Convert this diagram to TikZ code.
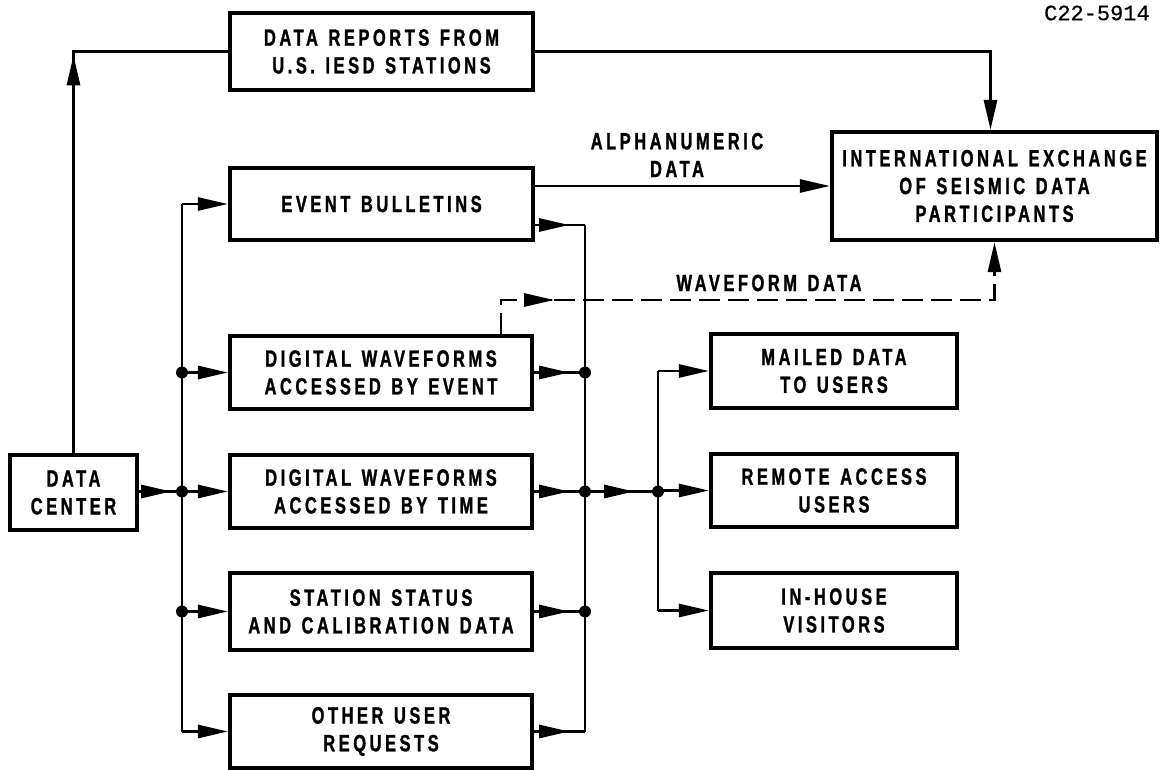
\documentclass[tikz,border=0pt]{standalone}
\usepackage{fontspec}
\setmainfont{Liberation Sans}[FakeStretch=0.7,LetterSpace=15,FakeBold=1.2,WordSpace=1.3]
\newfontfamily\monofnt{Liberation Mono}[FakeBold=0.6]
\usetikzlibrary{arrows.meta,calc}
\newcommand\lblfont{\bfseries\fontsize{13.4}{15.8}\selectfont}
\begin{document}
\begin{tikzpicture}[x=0.02cm,y=-0.02cm,
  box/.style={draw,line width=2.6pt,align=center,inner sep=0pt,font=\lblfont},
  conn/.style={line width=1.3pt},
  arr/.style={conn,-{Triangle[length=17pt,width=7.5pt]}},
  dsh/.style={conn,dash pattern=on 12pt off 4.5pt},
  dot/.style={circle,fill,inner sep=0pt,minimum size=0.24cm},
  lbl/.style={font=\lblfont,align=center,inner sep=0pt}]
\useasboundingbox (0,0) rectangle (1167,770);

% boxes
\node[box,minimum width=6.06cm,minimum height=1.54cm] (DR) at (381.5,51.5) {DATA REPORTS FROM\\U.S. IESD STATIONS};
\node[box,minimum width=6.06cm,minimum height=1.44cm] (EB) at (381.5,204) {EVENT BULLETINS};
\node[box,minimum width=6.5cm,minimum height=2.16cm] (INTL) at (994.5,186) {INTERNATIONAL EXCHANGE\\OF SEISMIC DATA\\PARTICIPANTS};
\node[box,minimum width=6.04cm,minimum height=1.46cm] (DWE) at (381,372.5) {DIGITAL WAVEFORMS\\ACCESSED BY EVENT};
\node[box,minimum width=6.04cm,minimum height=1.46cm] (DWT) at (381,491.5) {DIGITAL WAVEFORMS\\ACCESSED BY TIME};
\node[box,minimum width=6.04cm,minimum height=1.54cm] (STA) at (381,611.5) {STATION STATUS\\AND CALIBRATION DATA};
\node[box,minimum width=6.04cm,minimum height=1.46cm] (OTH) at (381,731.5) {OTHER USER\\REQUESTS};
\node[box,minimum width=2.54cm,minimum height=1.5cm] (DC) at (73.5,492.5) {DATA\\CENTER};
\node[box,minimum width=4.92cm,minimum height=1.48cm] (MAIL) at (834,371) {MAILED DATA\\TO USERS};
\node[box,minimum width=4.92cm,minimum height=1.46cm] (REM) at (834,490.5) {REMOTE ACCESS\\USERS};
\node[box,minimum width=4.92cm,minimum height=1.5cm] (INH) at (834,610.5) {IN-HOUSE\\VISITORS};

% free labels
\node[lbl] (ALPHA) at (677,155) {ALPHANUMERIC\\DATA};
\node[lbl] (WAVE) at (769,283) {WAVEFORM DATA};
\node[inner sep=0pt,anchor=east,font=\monofnt\fontsize{12.5}{14}\selectfont] (CODE) at (1150,13) {C22-5914};

% helper coordinates
\coordinate (LB) at (182,0);
\coordinate (RB) at (585,0);
\coordinate (SB) at (658,0);
\coordinate (WX) at (501,300);
\coordinate (EBo) at ([yshift=-0.42cm]EB.east);

% data center up to data reports
\draw[conn] (DC.north) |- (DR.west);
\draw[arr] (DC.north) -- ($(DC.north |- DR.west)+(0,4)$);
% data reports to international exchange
\draw[arr] (DR.east) -| ($(INTL.north)+(-4,0)$);
% alphanumeric data
\draw[arr] (EB.east |- INTL.west) -- (INTL.west);

% left bus
\draw[conn] (EB.west -| LB) -- (OTH.west -| LB);
\foreach \b in {EB,DWE,DWT,STA,OTH}
  \draw[arr] (\b.west -| LB) -- (\b.west);
\foreach \b in {DWE,DWT,STA}
  \node[dot] (ld\b) at (\b.west -| LB) {};
\draw[conn] (DC.east |- DWT.west) -- (DWT.west -| LB);
\draw[arr] (DC.east |- DWT.west) -- ($(DWT.west -| LB)+(-11,0)$);

% right bus
\draw[conn] (EBo -| RB) -- (OTH.east -| RB);
\draw[conn] (EBo) -- (EBo -| RB);
\draw[arr] (EBo) -- ($(EBo -| RB)+(-16,0)$);
\foreach \b in {DWE,DWT,STA,OTH}{
  \draw[conn] (\b.east) -- (\b.east -| RB);
  \draw[arr] (\b.east) -- ($(\b.east -| RB)+(-16,0)$);
}
\foreach \b in {DWE,DWT,STA}
  \node[dot] (rd\b) at (\b.east -| RB) {};

% to the user side
\draw[conn] (DWT.east -| RB) -- (DWT.east -| SB);
\draw[arr] (DWT.east -| RB) -- ($(DWT.east -| SB)+(-24,0)$);
\node[dot] (sd) at (DWT.east -| SB) {};
\draw[conn] (MAIL.west -| SB) -- (INH.west -| SB);
\foreach \b in {MAIL,REM,INH}
  \draw[arr] (\b.west -| SB) -- (\b.west);

% waveform data (dashed)
\draw[dsh,-{Triangle[length=17pt,width=7.5pt]}] (DWE.north -| WX) -- (WX) -| (INTL.south);
\draw[arr] ($(WX)+(51,0)$) -- ++(2,0);
\end{tikzpicture}
\end{document}
